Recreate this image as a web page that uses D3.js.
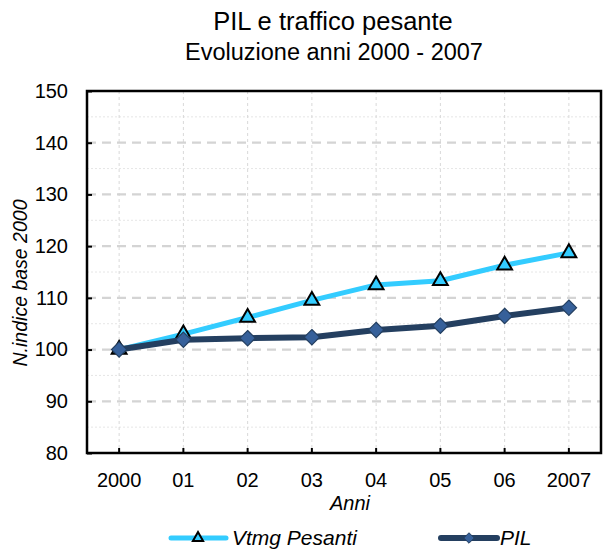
<!DOCTYPE html>
<html>
<head>
<meta charset="utf-8">
<script src="https://cdn.jsdelivr.net/npm/d3@7"></script>
<style>
  body { margin: 0; background: #fff; }
  svg { display: block; font-family: "Liberation Sans", Arial, sans-serif; }
</style>
</head>
<body>
<svg id="chart" width="614" height="549"></svg>
<script>
// Index values (2000 = 100)
const years = ["2000", "01", "02", "03", "04", "05", "06", "2007"];
const vtmgPesanti = [100, 103.0, 106.2, 109.5, 112.5, 113.3, 116.3, 118.7];
const pil = [100, 101.9, 102.2, 102.4, 103.8, 104.6, 106.5, 108.1];
const yTicks = [80, 90, 100, 110, 120, 130, 140, 150];
const yMinor = [85, 95, 105, 115, 125, 135, 145];

const svg = d3.select("#chart");
const margin = { left: 87, right: 13, top: 91, bottom: 96 };
const W = 614, H = 549;
const plotW = W - margin.left - margin.right;
const plotH = H - margin.top - margin.bottom;

const x = d3.scaleBand().domain(years).range([margin.left, margin.left + plotW]);
const xc = d => x(d) + x.bandwidth() / 2;
const y = d3.scaleLinear().domain([80, 150]).range([margin.top + plotH, margin.top]);

// Titles
svg.append("text").attr("x", 333).attr("y", 30).attr("text-anchor", "middle")
  .attr("font-size", 25.5).attr("fill", "#000").text("PIL e traffico pesante");
svg.append("text").attr("x", 334).attr("y", 60).attr("text-anchor", "middle")
  .attr("font-size", 23.5).attr("fill", "#000").text("Evoluzione anni 2000 - 2007");

const grid = svg.append("g");
// minor horizontal gridlines
grid.selectAll(".ymin").data(yMinor).join("line")
  .attr("x1", margin.left).attr("x2", margin.left + plotW)
  .attr("y1", d => y(d)).attr("y2", d => y(d))
  .attr("stroke", "#e6e6e6").attr("stroke-width", 1).attr("stroke-dasharray", "2,2");
// vertical gridlines at each year
grid.selectAll(".xg").data(years).join("line")
  .attr("x1", d => xc(d)).attr("x2", d => xc(d))
  .attr("y1", margin.top).attr("y2", margin.top + plotH)
  .attr("stroke", "#d9d9d9").attr("stroke-width", 1).attr("stroke-dasharray", "3,3");
// major horizontal gridlines
grid.selectAll(".ymaj").data(yTicks.filter(d => d > 80 && d < 150)).join("line")
  .attr("x1", margin.left).attr("x2", margin.left + plotW)
  .attr("y1", d => y(d)).attr("y2", d => y(d))
  .attr("stroke", "#d4d4d4").attr("stroke-width", 2.2).attr("stroke-dasharray", "9,6");

// Axes
const yAxis = d3.axisLeft(y).tickValues(yTicks).tickSize(-5).tickPadding(19);
const gy = svg.append("g").attr("transform", `translate(${margin.left},0)`).call(yAxis);
gy.select(".domain").remove();
gy.selectAll(".tick line").attr("stroke", "#000").attr("stroke-width", 2);
gy.selectAll(".tick text").attr("font-size", 20).attr("fill", "#000")
  .attr("font-family", "Liberation Sans, Arial, sans-serif");

const xAxis = d3.axisBottom(x).tickSize(-5).tickPadding(20);
const gx = svg.append("g").attr("transform", `translate(0,${margin.top + plotH})`).call(xAxis);
gx.select(".domain").remove();
gx.selectAll(".tick line").attr("stroke", "#000").attr("stroke-width", 2);
gx.selectAll(".tick text").attr("font-size", 20).attr("fill", "#000")
  .attr("font-family", "Liberation Sans, Arial, sans-serif");

// Plot frame
svg.append("rect").attr("x", margin.left).attr("y", margin.top)
  .attr("width", plotW).attr("height", plotH)
  .attr("fill", "none").attr("stroke", "#000").attr("stroke-width", 2.5);

// Axis titles
svg.append("text").attr("x", 350).attr("y", 510).attr("text-anchor", "middle")
  .attr("font-size", 20).attr("font-style", "italic").text("Anni");
svg.append("text").attr("transform", "translate(27,283) rotate(-90)")
  .attr("text-anchor", "middle").attr("font-size", 19.5).attr("font-style", "italic")
  .text("N.indice base 2000");

// Series
const line = d3.line().x((d, i) => xc(years[i])).y(d => y(d));
const lightBlue = "#33ccff", navy = "#243f60", diamondFill = "#36609a";

svg.append("path").datum(vtmgPesanti).attr("d", line)
  .attr("fill", "none").attr("stroke", lightBlue).attr("stroke-width", 5)
  .attr("stroke-linejoin", "round");

const tri = d3.symbol().type(d3.symbolTriangle).size(95);
svg.append("g").selectAll("path").data(vtmgPesanti).join("path")
  .attr("d", tri)
  .attr("transform", (d, i) => `translate(${xc(years[i])},${y(d)})`)
  .attr("fill", lightBlue).attr("stroke", "#000").attr("stroke-width", 2);

svg.append("path").datum(pil).attr("d", line)
  .attr("fill", "none").attr("stroke", navy).attr("stroke-width", 6)
  .attr("stroke-linejoin", "round");

const dia = d3.symbol().type(d3.symbolDiamond2).size(150);
svg.append("g").selectAll("path").data(pil).join("path")
  .attr("d", dia)
  .attr("transform", (d, i) => `translate(${xc(years[i])},${y(d)})`)
  .attr("fill", diamondFill).attr("stroke", navy).attr("stroke-width", 1.2);

// Legend
const lg = svg.append("g");
lg.append("line").attr("x1", 171).attr("x2", 226).attr("y1", 538).attr("y2", 538)
  .attr("stroke", lightBlue).attr("stroke-width", 5).attr("stroke-linecap", "round");
lg.append("path").attr("d", d3.symbol().type(d3.symbolTriangle).size(45))
  .attr("transform", "translate(198,538)")
  .attr("fill", lightBlue).attr("stroke", "#000").attr("stroke-width", 2);
lg.append("text").attr("x", 232).attr("y", 545).attr("font-size", 21)
  .attr("font-style", "italic").text("Vtmg Pesanti");

lg.append("line").attr("x1", 441).attr("x2", 497).attr("y1", 538).attr("y2", 538)
  .attr("stroke", navy).attr("stroke-width", 6).attr("stroke-linecap", "round");
lg.append("path").attr("d", d3.symbol().type(d3.symbolDiamond2).size(70))
  .attr("transform", "translate(469,538)")
  .attr("fill", diamondFill).attr("stroke", navy).attr("stroke-width", 1);
lg.append("text").attr("x", 500).attr("y", 545).attr("font-size", 21)
  .attr("font-style", "italic").text("PIL");
</script>
</body>
</html>
